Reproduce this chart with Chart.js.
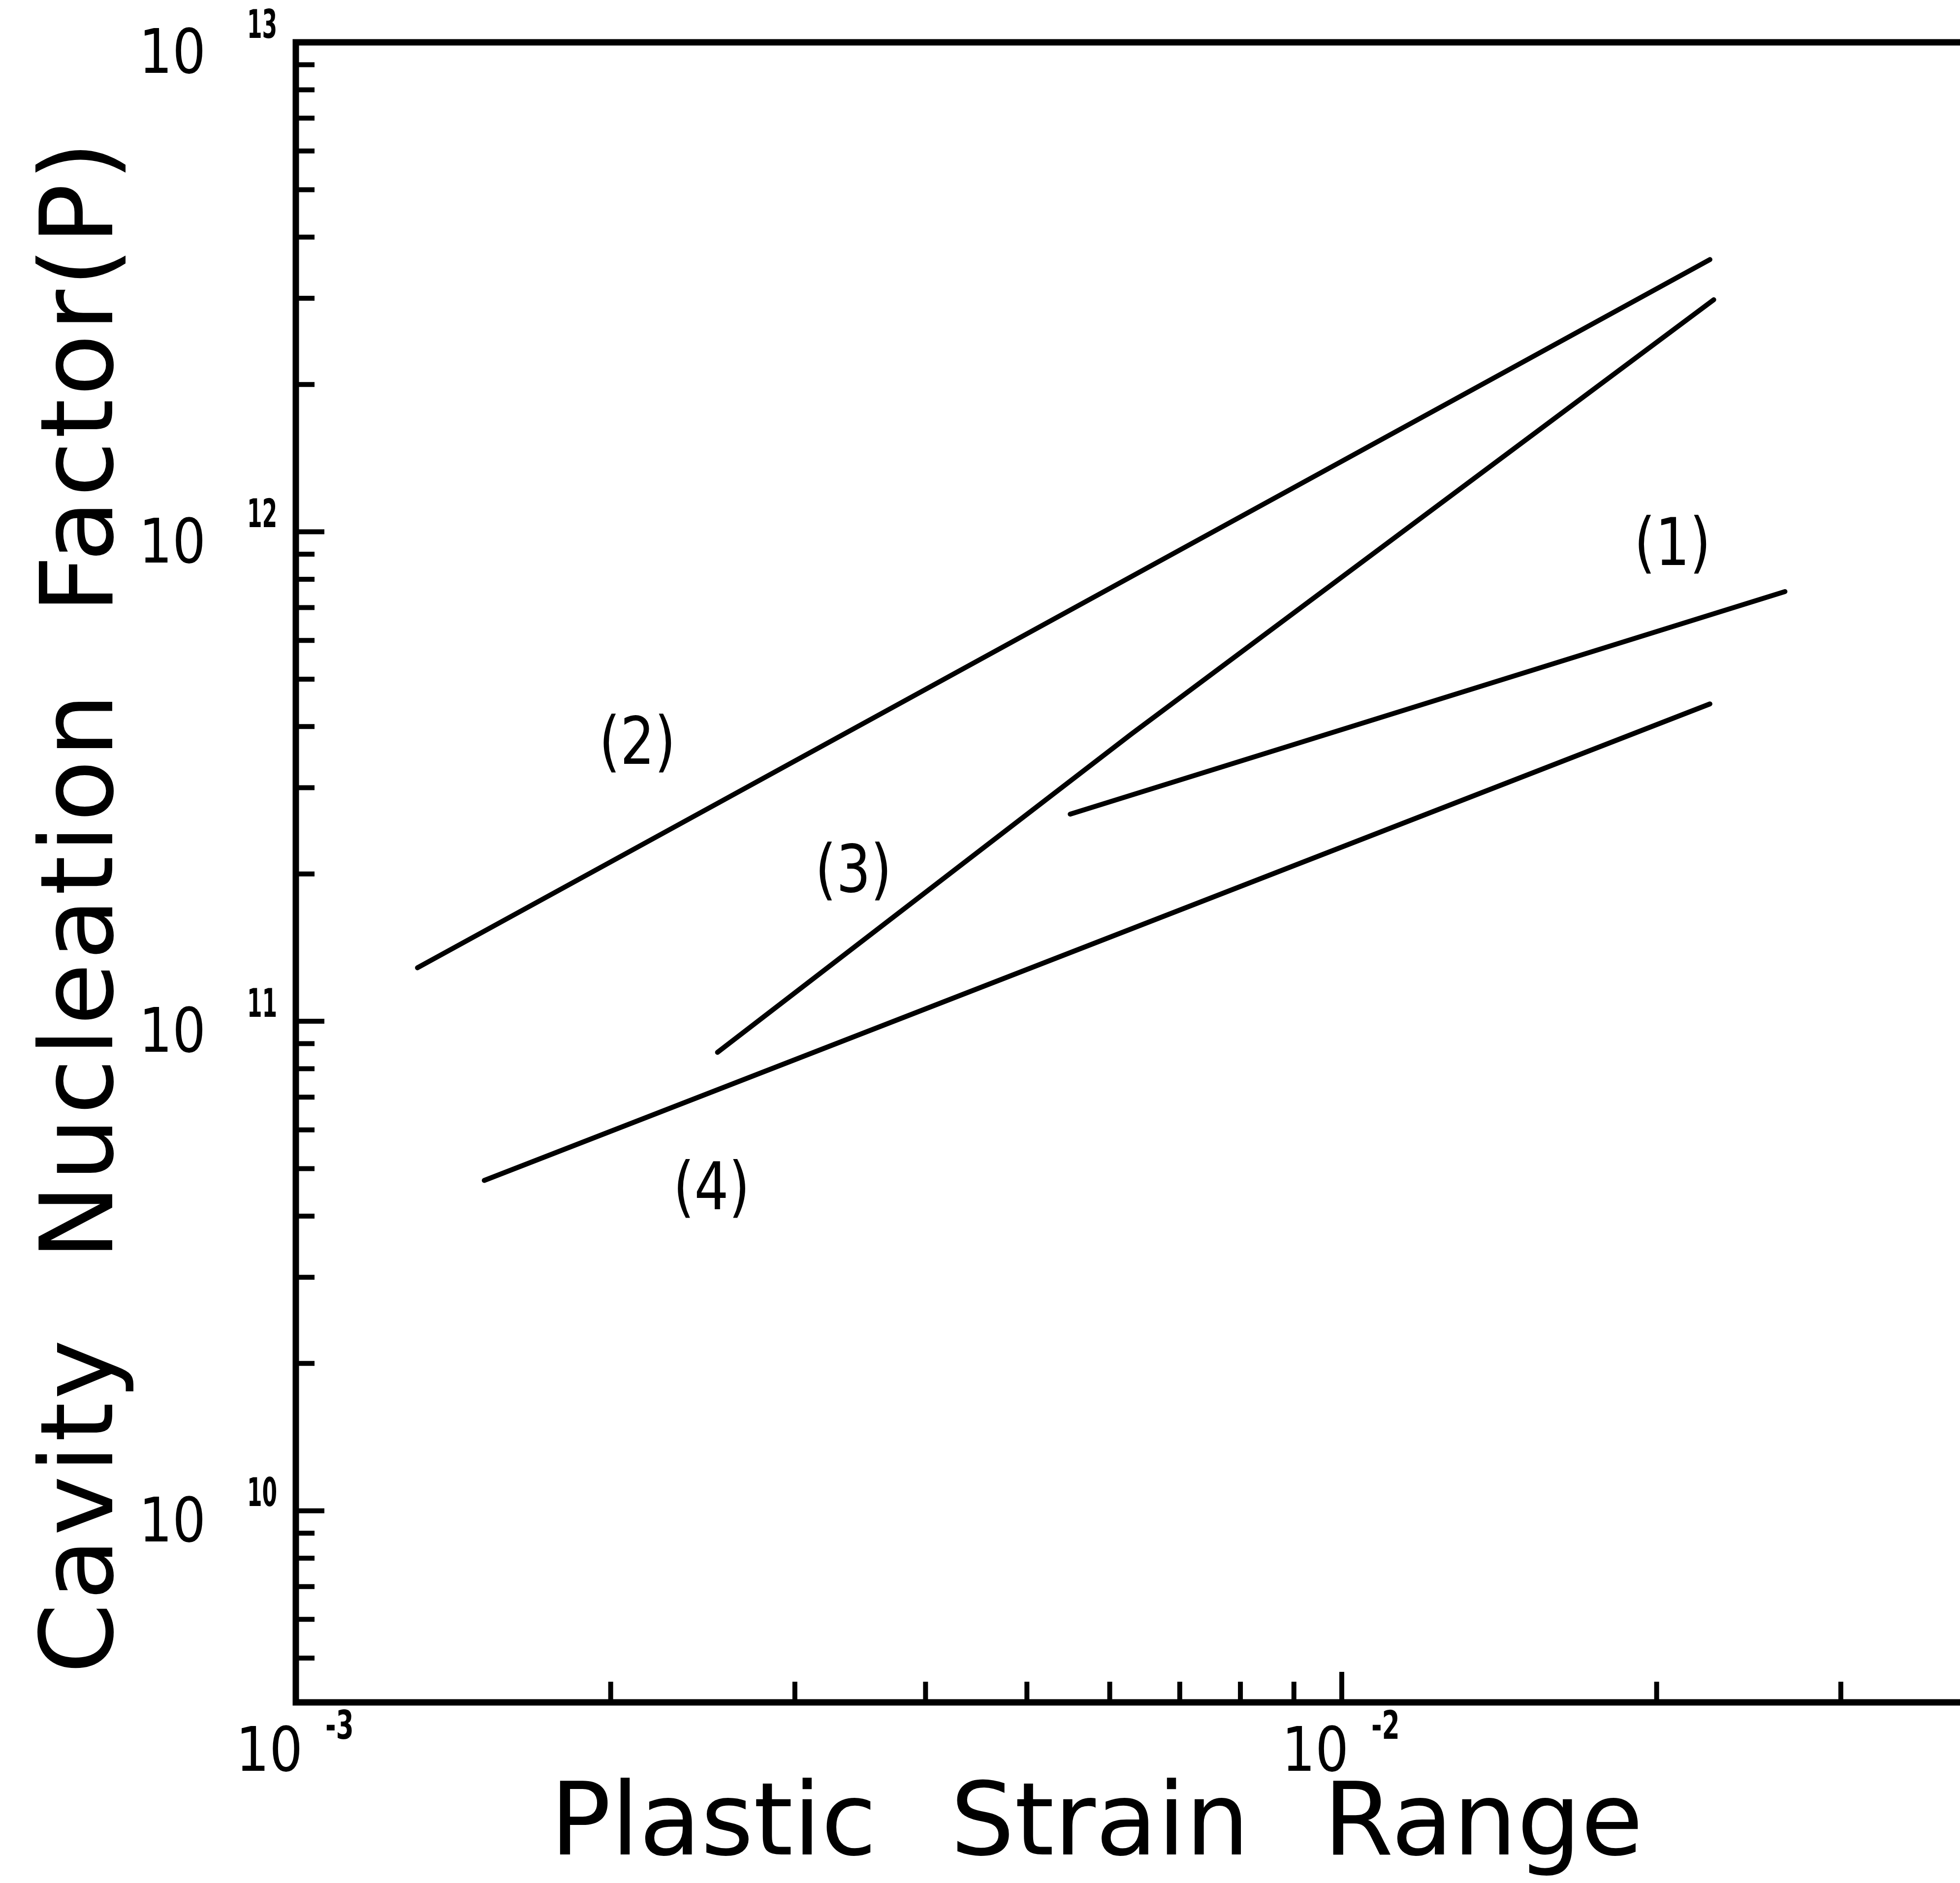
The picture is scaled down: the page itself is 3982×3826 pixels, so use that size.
<!DOCTYPE html>
<html>
<head>
<meta charset="utf-8">
<script src="https://cdn.jsdelivr.net/npm/chart.js@4.4.0/dist/chart.umd.min.js"></script>
<style>
    html, body { margin: 0; padding: 0; background: #fff; overflow: hidden; }
    canvas { display: block; }
</style>
</head>
<body>
<canvas id="canvasNucleation" width="3982" height="3826"></canvas>
<script>
// values (plastic strain range vs cavity nucleation factor)
const curveNames = ['(1)', '(2)', '(3)', '(4)'];

const strain1 = [0.0055, 0.02653];
const factor1 = [2.65e11, 7.55e11];

const strain2 = [0.001307, 0.02249];
const factor2 = [1.286e11, 3.60e12];

const strain3 = [0.00253, 0.00629, 0.02268];
const factor3 = [8.64e10, 3.86e11, 2.98e12];

const strain4 = [0.001514, 0.02249];
const factor4 = [4.73e10, 4.45e11];

// where each curve number sits
const labelStrain = [0.02071, 0.002121, 0.003413, 0.002497];
const labelFactor = [9.44e11, 3.71e11, 2.03e11, 4.56e10];

// tick marks
const xTickValues = [0.001, 0.002, 0.003, 0.004, 0.005, 0.006, 0.007, 0.008, 0.009, 0.01, 0.02, 0.03];
const xMajorTicks = [0.001, 0.01];
const yTickValues = [5e9, 6e9, 7e9, 8e9, 9e9,
    1e10, 2e10, 3e10, 4e10, 5e10, 6e10, 7e10, 8e10, 9e10,
    1e11, 2e11, 3e11, 4e11, 5e11, 6e11, 7e11, 8e11, 9e11,
    1e12, 2e12, 3e12, 4e12, 5e12, 6e12, 7e12, 8e12, 9e12, 1e13];
const yMajorTicks = [1e10, 1e11, 1e12, 1e13];

const xTitle = 'Plastic Strain Range';
const yTitle = 'Cavity Nucleation Factor(P)';

function toPoints(xs, ys) {
    return xs.map((x, i) => ({x: x, y: ys[i]}));
}

function makeDataset(name, xs, ys) {
    return {
        label: name,
        data: toPoints(xs, ys),
        showLine: true,
        borderColor: '#000',
        backgroundColor: '#000',
        borderWidth: 10,
        borderCapStyle: 'round',
        pointRadius: 0,
        tension: 0,
        fill: false
    };
}

function setTicks(values, majors) {
    return scale => {
        scale.ticks = values.map(v => ({value: v, major: majors.includes(v)}));
    };
}

function drawSegment(ctx, x1, y1, x2, y2) {
    ctx.beginPath();
    ctx.moveTo(x1, y1);
    ctx.lineTo(x2, y2);
    ctx.stroke();
}

// text squeezed sideways, the original lettering is narrow
function narrowText(ctx, text, x, y, squeeze) {
    ctx.save();
    ctx.translate(x, y);
    ctx.scale(squeeze, 1);
    ctx.fillText(text, 0, 0);
    ctx.restore();
}

const font = '"DejaVu Sans", "Liberation Sans", sans-serif';

// frame, inward ticks, power-of-ten labels, titles and curve numbers
const axisDecor = {
    id: 'axisDecor',
    afterDraw(chart) {
        const ctx = chart.ctx;
        const area = chart.chartArea;
        const xScale = chart.scales.x;
        const yScale = chart.scales.y;
        ctx.save();
        ctx.strokeStyle = '#000';
        ctx.fillStyle = '#000';

        ctx.lineWidth = 13;
        ctx.lineCap = 'square';
        ctx.beginPath();
        ctx.moveTo(area.right + 20, area.top);
        ctx.lineTo(area.left, area.top);
        ctx.lineTo(area.left, area.bottom);
        ctx.lineTo(area.right + 20, area.bottom);
        ctx.stroke();

        ctx.lineWidth = 10;
        ctx.lineCap = 'butt';
        yScale.ticks.forEach(t => {
            const py = yScale.getPixelForValue(t.value);
            drawSegment(ctx, area.left, py, area.left + (t.major ? 58 : 38), py);
        });
        xScale.ticks.forEach(t => {
            if (t.value === xScale.min) return;
            const px = xScale.getPixelForValue(t.value);
            drawSegment(ctx, px, area.bottom, px, area.bottom - (t.major ? 62 : 42));
        });

        ctx.textBaseline = 'middle';
        yScale.ticks.filter(t => t.major).forEach(t => {
            const py = yScale.getPixelForValue(t.value);
            ctx.font = '124px ' + font;
            ctx.textAlign = 'right';
            narrowText(ctx, '10', 418, py + 30, 0.86);
            ctx.font = 'bold 80px ' + font;
            ctx.textAlign = 'left';
            narrowText(ctx, String(Math.round(Math.log10(t.value))), 502, py - 30, 0.55);
        });
        xScale.ticks.filter(t => t.major).forEach(t => {
            const px = xScale.getPixelForValue(t.value);
            ctx.font = '124px ' + font;
            ctx.textAlign = 'right';
            narrowText(ctx, '10', px + 14, 3566, 0.86);
            ctx.font = 'bold 80px ' + font;
            ctx.textAlign = 'left';
            narrowText(ctx, String(Math.round(Math.log10(t.value))), px + 60, 3512, 0.65);
        });

        ctx.font = '205px ' + font;
        ctx.textBaseline = 'alphabetic';
        ctx.textAlign = 'center';
        if ('wordSpacing' in ctx) ctx.wordSpacing = '85px';
        ctx.fillText(xTitle, 2228, 3768);
        ctx.save();
        if ('letterSpacing' in ctx) ctx.letterSpacing = '6px';
        ctx.translate(228, 1841);
        ctx.rotate(-Math.PI / 2);
        ctx.fillText(yTitle, 0, 0);
        ctx.restore();
        if ('wordSpacing' in ctx) ctx.wordSpacing = '0px';

        ctx.font = '134px ' + font;
        ctx.textBaseline = 'middle';
        curveNames.forEach((name, i) => {
            narrowText(ctx, name, xScale.getPixelForValue(labelStrain[i]), yScale.getPixelForValue(labelFactor[i]) + 8, 0.82);
        });
        ctx.restore();
    }
};

const nucleationCanvas = document.getElementById('canvasNucleation');
const nucleationChart = new Chart(nucleationCanvas, {
    type: 'scatter',
    data: {
        datasets: [
            makeDataset(curveNames[0], strain1, factor1),
            makeDataset(curveNames[1], strain2, factor2),
            makeDataset(curveNames[2], strain3, factor3),
            makeDataset(curveNames[3], strain4, factor4)
        ]
    },
    options: {
        responsive: false,
        animation: false,
        devicePixelRatio: 1,
        layout: {padding: {left: 601, top: 86, right: 0, bottom: 367}},
        plugins: {legend: {display: false}, tooltip: {enabled: false}},
        scales: {
            x: {
                type: 'logarithmic',
                min: 0.001,
                max: 0.039,
                bounds: 'data',
                afterBuildTicks: setTicks(xTickValues, xMajorTicks),
                ticks: {display: false},
                grid: {display: false, drawTicks: false},
                border: {display: false},
                title: {display: false}
            },
            y: {
                type: 'logarithmic',
                min: 4.06e9,
                max: 1e13,
                bounds: 'data',
                afterBuildTicks: setTicks(yTickValues, yMajorTicks),
                ticks: {display: false},
                grid: {display: false, drawTicks: false},
                border: {display: false},
                title: {display: false}
            }
        }
    },
    plugins: [axisDecor]
});
</script>
</body>
</html>
